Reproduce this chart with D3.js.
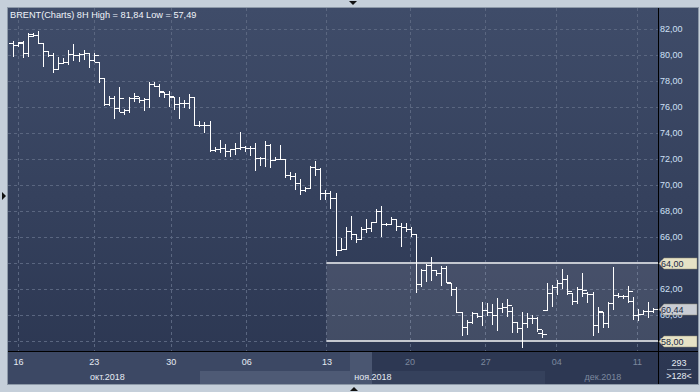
<!DOCTYPE html>
<html>
<head>
<meta charset="utf-8">
<script src="https://cdn.jsdelivr.net/npm/d3@7"></script>
<style>
  html, body { margin: 0; padding: 0; background: #c5cfda; }
  svg { display: block; }
</style>
</head>
<body>
<svg id="chart" width="700" height="392"></svg>
<script>
// BRENT 8H bars, 16 oct - 12 dec 2018
var openP = [80.92,80.77,81.00,80.15,81.46,81.54,80.92,80.31,80.00,78.92,79.38,79.46,80.08,80.00,80.08,80.15,79.62,79.46,78.23,76.23,
  76.69,75.92,75.62,75.77,76.69,76.69,76.54,76.62,77.77,77.62,77.15,77.00,76.77,76.23,76.31,76.31,76.77,74.62,74.62,74.62,
  72.69,72.77,72.85,72.62,72.77,72.85,72.92,72.85,72.85,72.08,72.08,73.08,71.92,72.00,72.00,70.77,70.69,70.15,69.62,69.77,
  71.38,71.23,69.38,69.38,69.00,65.00,65.08,66.46,66.23,65.85,66.62,66.69,67.15,68.00,67.00,67.00,67.38,66.85,66.77,66.62,
  66.23,62.38,63.46,63.85,63.46,63.23,63.62,62.46,62.00,60.23,59.08,59.46,60.15,59.92,60.38,60.23,60.00,60.54,60.62,60.31,
  59.46,59.00,59.38,59.77,59.77,58.62,60.38,61.69,62.15,62.46,62.77,61.69,61.08,62.00,61.69,61.62,59.23,60.23,59.38,60.92,
  61.54,61.46,61.46,61.08,60.00,60.08,60.31,60.31];
var highP = [81.08,81.00,81.08,81.69,81.69,81.84,80.92,80.31,80.15,79.85,79.77,80.38,80.85,80.15,80.38,80.15,80.15,79.46,78.23,76.85,
  76.85,77.54,75.85,76.77,77.08,76.77,76.69,77.92,77.92,77.77,77.15,77.23,76.77,76.77,76.54,77.00,76.77,74.92,74.85,74.92,
  72.92,73.46,73.15,72.77,73.23,74.08,73.00,73.00,73.23,72.15,73.38,73.15,72.15,73.08,72.00,71.00,70.92,70.46,69.85,71.46,
  71.85,71.31,69.62,69.54,69.38,65.92,66.77,67.62,66.23,66.77,67.38,67.15,68.15,68.38,67.08,67.54,67.38,67.08,67.08,66.77,
  66.23,63.54,63.92,64.46,63.46,63.77,63.77,62.46,62.15,60.23,59.62,60.23,60.15,61.00,60.92,60.85,61.31,60.92,61.23,60.62,
  59.46,60.23,60.15,60.00,59.85,58.85,62.46,62.31,62.69,63.54,63.08,61.69,62.15,63.23,61.77,61.77,60.62,60.23,61.00,63.69,
  61.69,61.54,62.23,61.38,60.46,60.38,61.00,60.54];
var lowP = [79.85,80.62,79.77,79.85,81.38,80.92,79.08,79.85,78.62,78.92,79.31,79.23,79.54,79.46,79.62,79.00,79.46,77.85,76.08,76.08,
  75.08,75.62,75.38,75.54,76.38,76.31,75.69,75.92,77.54,76.77,76.69,76.00,75.77,75.08,75.92,75.85,74.54,74.46,74.00,72.54,
  72.54,72.46,72.15,72.15,72.31,72.69,72.54,72.23,71.08,71.46,71.38,71.31,71.85,71.92,70.54,70.38,69.62,69.23,69.46,69.69,
  70.69,68.85,68.85,68.15,64.54,65.00,65.00,65.77,65.54,65.85,66.31,66.38,67.15,66.00,66.85,66.92,66.46,65.23,66.38,66.00,
  61.69,62.15,62.54,62.62,63.00,62.23,62.46,61.46,60.15,58.38,58.46,59.31,59.77,59.15,59.92,59.23,58.77,60.15,59.85,58.62,
  58.62,57.49,59.00,59.31,58.69,58.23,60.31,60.62,61.54,62.00,61.54,60.77,60.85,61.38,60.92,58.38,58.62,59.00,59.00,60.38,
  61.31,61.23,60.92,59.62,59.54,60.00,59.77,60.15];
var closeP = [80.77,80.92,80.15,81.62,81.54,80.92,80.31,80.00,78.92,79.38,79.46,80.08,80.00,80.08,80.15,79.62,80.00,78.23,76.23,76.69,
  75.92,76.69,75.77,76.69,76.85,76.54,76.62,77.77,77.62,77.23,77.00,76.85,76.23,76.31,76.31,76.77,74.62,74.62,74.62,72.69,
  72.77,72.85,72.62,72.77,72.85,72.92,72.85,72.85,72.08,72.08,73.08,71.92,72.00,72.00,70.77,70.69,70.15,69.62,69.77,71.38,
  71.23,69.38,69.38,69.00,65.00,65.08,66.46,66.23,65.85,66.62,66.69,67.15,68.00,67.00,67.00,67.38,66.85,66.77,66.62,66.23,
  62.38,63.46,63.85,63.46,63.23,63.62,62.54,62.00,60.23,59.08,59.46,60.15,59.92,60.38,60.23,60.00,60.54,60.62,60.77,59.46,
  59.00,59.38,59.77,59.77,58.92,58.54,61.69,62.15,62.46,62.77,61.85,61.08,62.00,61.92,61.62,59.23,60.31,59.38,60.92,61.54,
  61.46,61.46,61.85,60.00,60.08,60.31,60.31,60.44];

var yTicks = [82, 80, 78, 76, 74, 72, 70, 68, 66, 64, 62, 60, 58];
var dayTickAt = [1, 16, 31.3, 46.3, 62.2, 78.7, 93.7, 107.8, 123.8];
var dayLabels = ['16', '23', '30', '06', '13', '20', '27', '04', '11'];
var monthAt = [15.3, 67.7, 113.4];
var monthLabels = ['окт.2018', 'ноя.2018', 'дек.2018'];
var levels = [64, 58];
var rangeStart = 62.2;
var lastPrice = 60.44;

var fmt = function(v) { return d3.format('.2f')(v).replace('.', ','); };

var svg = d3.select('#chart');
var font = '"Liberation Sans", Arial, sans-serif';

// plot box (window.top is reserved, so no "top" here)
var pL = 8, pR = 658, pT = 8, pB = 351;
var x = d3.scaleLinear().domain([0, openP.length - 1]).range([13, 653]);
var y = d3.scaleLinear().domain([58, 82]).range([341, 29]);

var defs = svg.append('defs');
var grad = defs.append('linearGradient').attr('id', 'bg').attr('x1', 0).attr('y1', 0).attr('x2', 0).attr('y2', 1);
grad.append('stop').attr('offset', 0).attr('stop-color', '#3f4c69');
grad.append('stop').attr('offset', 1).attr('stop-color', '#2b3651');
defs.append('clipPath').attr('id', 'plotclip').append('rect')
  .attr('x', pL).attr('y', pT).attr('width', pR - pL).attr('height', pB - pT);

// outer frame
svg.append('rect').attr('width', 700).attr('height', 392).attr('fill', '#c5cfda');
svg.append('rect').attr('x', pL).attr('y', pT).attr('width', 690).attr('height', 376)
  .attr('fill', 'url(#bg)');
svg.append('rect').attr('x', pL - 0.5).attr('y', pT - 0.5).attr('width', 691).attr('height', 377)
  .attr('fill', 'none').attr('stroke', '#8d99a8');

// little arrows on the frame
svg.append('path').attr('d', 'M349,1 L357,1 L353,5 Z').attr('fill', '#111');
svg.append('path').attr('d', 'M350,391 L358,391 L354,387 Z').attr('fill', '#111');
svg.append('path').attr('d', 'M2,192 L2,200 L6,196 Z').attr('fill', '#111');

// bottom strip
svg.append('rect').attr('x', pL).attr('y', pB + 1).attr('width', pR - pL).attr('height', 32).attr('fill', '#3c4864');
svg.append('rect').attr('x', 200).attr('y', 371).attr('width', 150).attr('height', 13).attr('fill', '#4e5a75');
svg.append('rect').attr('x', 350).attr('y', pB + 1).attr('width', 22).attr('height', 32).attr('fill', '#4a5671');
svg.append('rect').attr('x', 372).attr('y', pB + 1).attr('width', pR - 372).attr('height', 32).attr('fill', '#2d3853');
svg.append('rect').attr('x', 372).attr('y', 371).attr('width', 173).attr('height', 13).attr('fill', '#35415c');

var plot = svg.append('g').attr('clip-path', 'url(#plotclip)');

// grid
plot.selectAll('.hg').data(yTicks).enter().append('line')
  .attr('x1', pL).attr('x2', pR)
  .attr('y1', function(d) { return Math.round(y(d)) + 0.5; })
  .attr('y2', function(d) { return Math.round(y(d)) + 0.5; })
  .attr('stroke', '#5a6680').attr('stroke-dasharray', '3,3');
plot.selectAll('.vg').data(dayTickAt).enter().append('line')
  .attr('x1', function(d) { return Math.round(x(d)) + 0.5; })
  .attr('x2', function(d) { return Math.round(x(d)) + 0.5; })
  .attr('y1', pT).attr('y2', pB)
  .attr('stroke', '#5a6680').attr('stroke-dasharray', '3,3');

// price range box
plot.append('rect')
  .attr('x', x(rangeStart)).attr('y', y(levels[0]))
  .attr('width', pR - x(rangeStart)).attr('height', y(levels[1]) - y(levels[0]))
  .attr('fill', 'rgba(255,255,255,0.1)');
plot.selectAll('.lvl').data(levels).enter().append('line')
  .attr('x1', x(rangeStart)).attr('x2', pR)
  .attr('y1', function(d) { return y(d); }).attr('y2', function(d) { return y(d); })
  .attr('stroke', '#c4c8d0').attr('stroke-width', 2);

// OHLC bars
var bars = plot.selectAll('.bar').data(openP).enter().append('g')
  .attr('stroke', '#ffffff').attr('stroke-width', 1).attr('shape-rendering', 'crispEdges');
bars.append('line')
  .attr('x1', function(d, i) { return Math.round(x(i)) + 0.5; })
  .attr('x2', function(d, i) { return Math.round(x(i)) + 0.5; })
  .attr('y1', function(d, i) { return y(highP[i]); })
  .attr('y2', function(d, i) { return y(lowP[i]); });
bars.append('line')
  .attr('x1', function(d, i) { return Math.round(x(i)) - 4; })
  .attr('x2', function(d, i) { return Math.round(x(i)) + 1; })
  .attr('y1', function(d) { return Math.round(y(d)) + 0.5; })
  .attr('y2', function(d) { return Math.round(y(d)) + 0.5; });
bars.append('line')
  .attr('x1', function(d, i) { return Math.round(x(i)); })
  .attr('x2', function(d, i) { return Math.round(x(i)) + 5; })
  .attr('y1', function(d, i) { return Math.round(y(closeP[i])) + 0.5; })
  .attr('y2', function(d, i) { return Math.round(y(closeP[i])) + 0.5; });

// axis separators
svg.append('line').attr('x1', pR + 0.5).attr('x2', pR + 0.5).attr('y1', pT).attr('y2', 384)
  .attr('stroke', '#000');
svg.append('line').attr('x1', pL).attr('x2', 698).attr('y1', pB + 0.5).attr('y2', pB + 0.5)
  .attr('stroke', '#000');

// title
svg.append('text').attr('x', 10).attr('y', 18)
  .attr('font-family', font).attr('font-size', 9.2).attr('fill', '#f0f4fa')
  .text('BRENT(Charts) 8H High = ' + fmt(d3.max(highP)) + ' Low = ' + fmt(d3.min(lowP)));

// right axis
var yAxis = d3.axisRight(y).tickValues(yTicks).tickSize(0).tickPadding(2).tickFormat(fmt);
var ya = svg.append('g').attr('transform', 'translate(' + pR + ',0)').call(yAxis);
ya.select('.domain').remove();
ya.selectAll('text').attr('font-family', font).attr('font-size', 9).attr('fill', '#cfe0f6');

// price tags
function tag(v, bg) {
  var cy = Math.round(y(v)) + 0.5;
  svg.append('path')
    .attr('d', 'M' + (pR + 1) + ',' + cy + ' L' + (pR + 6) + ',' + (cy - 5.5) + ' L697,' + (cy - 5.5) +
      ' L697,' + (cy + 5.5) + ' L' + (pR + 6) + ',' + (cy + 5.5) + ' Z')
    .attr('fill', bg).attr('stroke', '#8f8a70').attr('stroke-width', 0.5);
  svg.append('text').attr('x', pR + 3).attr('y', cy + 3.5)
    .attr('font-family', font).attr('font-size', 9).attr('fill', '#1c2a44').text(fmt(v));
}
tag(levels[0], '#e6e2c6');
tag(levels[1], '#e6e2c6');
tag(lastPrice, '#c9cdd4');

// bottom axis
var xAxis = d3.axisBottom(x).tickValues(dayTickAt).tickSize(0).tickPadding(0)
  .tickFormat(function(d, i) { return dayLabels[i]; });
var xa = svg.append('g').attr('transform', 'translate(0,' + 359 + ')').call(xAxis);
xa.select('.domain').remove();
xa.selectAll('text').attr('font-family', font).attr('font-size', 9)
  .attr('fill', function(d) { return x(d) > 372 ? '#7c889e' : '#e6ebf3'; });

svg.selectAll('.mon').data(monthAt).enter().append('text')
  .attr('x', function(d) { return x(d); }).attr('y', 380)
  .attr('font-family', font).attr('font-size', 9)
  .attr('fill', function(d) { return x(d) > 372 ? '#7c889e' : '#e6ebf3'; })
  .text(function(d, i) { return monthLabels[i]; });

// corner box
svg.append('text').attr('x', 679).attr('y', 366).attr('text-anchor', 'middle')
  .attr('font-family', font).attr('font-size', 9).attr('fill', '#e6ebf3').text('293');
svg.append('line').attr('x1', 667).attr('x2', 691).attr('y1', 369.5).attr('y2', 369.5).attr('stroke', '#8090a8');
svg.append('text').attr('x', 679).attr('y', 379).attr('text-anchor', 'middle')
  .attr('font-family', font).attr('font-size', 9).attr('fill', '#e6ebf3').text('>' + openP.length + '<');
</script>
</body>
</html>
